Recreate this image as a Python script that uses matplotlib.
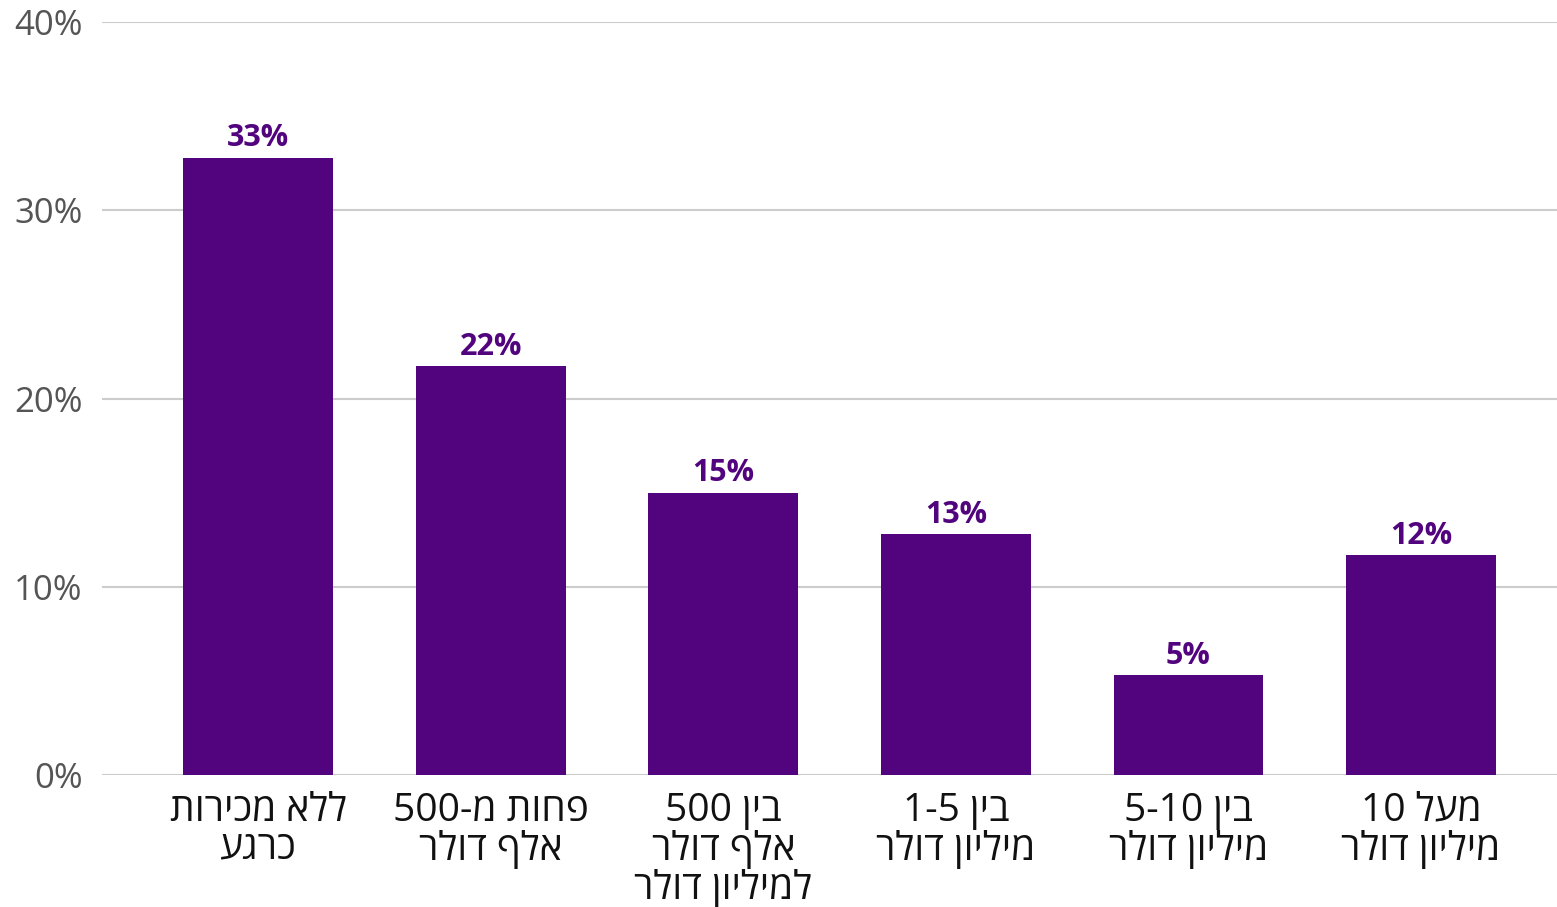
import re
import matplotlib
matplotlib.use("Agg")
import matplotlib.pyplot as plt
from matplotlib.ticker import FuncFormatter

categories = [
    ["ללא מכירות", "כרגע"],
    ["פחות מ-500", "אלף דולר"],
    ["בין 500", "אלף דולר", "למיליון דולר"],
    ["בין 1-5", "מיליון דולר"],
    ["בין 5-10", "מיליון דולר"],
    ["מעל 10", "מיליון דולר"],
]
values = [32.8, 21.7, 15.0, 12.8, 5.3, 11.7]
value_labels = ["33%", "22%", "15%", "13%", "5%", "12%"]
yticks = [0, 10, 20, 30, 40]

def visual(line):
    rev = line[::-1]
    return re.sub(r"[0-9]+(?:[-.][0-9]+)*", lambda m: m.group(0)[::-1], rev)

FONT = ["Open Sans", "DejaVu Sans"]
plt.rcParams["font.family"] = FONT

purple = "#52047E"
fig = plt.figure(figsize=(15.57, 9.07), dpi=100)
ax = fig.add_axes([102 / 1557, 132 / 907, 1 - 102 / 1557, (775 - 22) / 907])

x = list(range(len(values)))
ax.bar(x, values, width=0.645, color=purple, zorder=3)
ax.set_xlim(-0.673, 5.585)
ax.set_ylim(0, 40)
ax.set_yticks(yticks)
ax.yaxis.set_major_formatter(FuncFormatter(lambda v, p: f"{int(v)}%"))
ax.grid(axis="y", color="#cccccc", linewidth=1.5, zorder=0)
for s in ax.spines.values():
    s.set_visible(False)
ax.tick_params(axis="y", length=0, pad=14, labelsize=25, labelcolor="#555555")
ax.tick_params(axis="x", length=0, pad=12, labelsize=28, labelcolor="#111111")
ax.set_xticks(x)
ax.set_xticklabels(["\n".join(visual(l) for l in c) for c in categories],
                   linespacing=1.0, va="top")

for xi, v, lab in zip(x, values, value_labels):
    ax.annotate(lab, (xi, v), xytext=(0, 3), textcoords="offset points",
                ha="center", va="bottom", fontsize=22, fontweight="bold",
                color=purple)

fig.savefig("out.png", dpi=100)
